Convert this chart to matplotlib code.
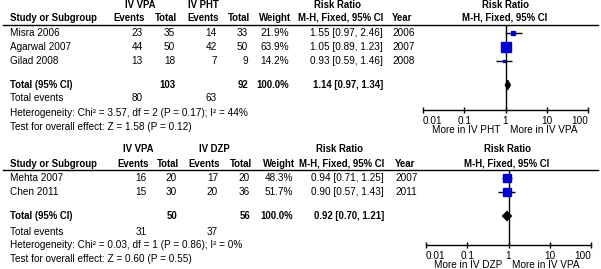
import matplotlib
matplotlib.use("Agg")
import matplotlib.pyplot as plt
from matplotlib.ticker import FixedLocator, FixedFormatter

plt.rcParams['font.family'] = ['Liberation Sans', 'DejaVu Sans']
plt.rcParams['font.stretch'] = 'normal'

# ---- data: comparison 1 (IV VPA vs IV PHT) ----
studies1 = ['Misra 2006', 'Agarwal 2007', 'Gilad 2008']
vpa_events1 = [23, 44, 13]
vpa_total1 = [35, 50, 18]
pht_events1 = [14, 42, 7]
pht_total1 = [33, 50, 9]
weight1 = [21.9, 63.9, 14.2]
rr1 = [1.55, 1.05, 0.93]
lo1 = [0.97, 0.89, 0.59]
hi1 = [2.46, 1.23, 1.46]
year1 = [2006, 2007, 2008]
pooled1 = (1.14, 0.97, 1.34)
sum_total1 = (103, 92)
sum_events1 = (80, 63)
het1 = 'Heterogeneity: Chi² = 3.57, df = 2 (P = 0.17); I² = 44%'
test1 = 'Test for overall effect: Z = 1.58 (P = 0.12)'

# ---- data: comparison 2 (IV VPA vs IV DZP) ----
studies2 = ['Mehta 2007', 'Chen 2011']
vpa_events2 = [16, 15]
vpa_total2 = [20, 30]
dzp_events2 = [17, 20]
dzp_total2 = [20, 36]
weight2 = [48.3, 51.7]
rr2 = [0.94, 0.90]
lo2 = [0.71, 0.57]
hi2 = [1.25, 1.43]
year2 = [2007, 2011]
pooled2 = (0.92, 0.70, 1.21)
sum_total2 = (50, 56)
sum_events2 = (31, 37)
het2 = 'Heterogeneity: Chi² = 0.03, df = 1 (P = 0.86); I² = 0%'
test2 = 'Test for overall effect: Z = 0.60 (P = 0.55)'

tick_vals = [0.01, 0.1, 1, 10, 100]
tick_labels = ['0.01', '0.1', '1', '10', '100']

W, H = 601, 269
FS = 7.2      # normal text
FSB = 6.9     # bold text
BLUE = '#0000CC'

fig = plt.figure(figsize=(W / 100, H / 100), dpi=100)
bg = fig.add_axes([0, 0, 1, 1])
bg.set_xlim(0, W)
bg.set_ylim(H, 0)
bg.axis('off')


def txt(x, y, s, ha='left', bold=False):
    bg.text(x, y, s, ha=ha, va='center', fontsize=FSB if bold else FS,
            fontweight='bold' if bold else 'normal')


def panel(y0, cols, grp, names, e1, n1, e2, n2, w, rr, lo, hi, yrs,
          pooled, tot, ev, het, test, fx, ctl):
    # y0: row centres in pixels
    yg, yh, yline, rows, ytot, yev, yhet, ytest, yaxis = y0
    c_e1, c_n1, c_e2, c_n2, c_w, c_rr, c_yr = cols
    txt(grp[0][0], yg, grp[0][1], ha='center', bold=True)
    txt(grp[1][0], yg, grp[1][1], ha='center', bold=True)
    txt(10, yh, 'Study or Subgroup', bold=True)
    for cx, lab in zip([c_e1, c_n1, c_e2, c_n2, c_w],
                       ['Events', 'Total', 'Events', 'Total', 'Weight']):
        txt(cx + 2, yh, lab, ha='right', bold=True)
    txt(c_rr - 45, yg, 'Risk Ratio', ha='center', bold=True)
    txt(c_rr, yh, 'M-H, Fixed, 95% CI', ha='right', bold=True)
    txt(c_yr, yh, 'Year', bold=True)
    txt(fx[2], yg, 'Risk Ratio', ha='center', bold=True)
    txt(fx[2], yh, 'M-H, Fixed, 95% CI', ha='center', bold=True)
    bg.plot([3, 598], [yline, yline], color='black', lw=1)

    for i, y in enumerate(rows):
        txt(10, y, names[i])
        txt(c_e1, y, str(e1[i]), ha='right')
        txt(c_n1, y, str(n1[i]), ha='right')
        txt(c_e2, y, str(e2[i]), ha='right')
        txt(c_n2, y, str(n2[i]), ha='right')
        txt(c_w, y, '%.1f%%' % w[i], ha='right')
        txt(c_rr, y, '%.2f [%.2f, %.2f]' % (rr[i], lo[i], hi[i]), ha='right')
        txt(c_yr, y, str(yrs[i]))

    txt(10, ytot, 'Total (95% CI)', bold=True)
    txt(c_n1, ytot, str(tot[0]), ha='right', bold=True)
    txt(c_n2, ytot, str(tot[1]), ha='right', bold=True)
    txt(c_w, ytot, '100.0%', ha='right', bold=True)
    txt(c_rr, ytot, '%.2f [%.2f, %.2f]' % pooled, ha='right', bold=True)
    txt(10, yev, 'Total events')
    txt(c_e1, yev, str(ev[0]), ha='right')
    txt(c_e2, yev, str(ev[1]), ha='right')
    txt(10, yhet, het)
    txt(10, ytest, test)

    # forest plot axes on log scale
    x_lo, x_hi = fx[0], fx[1]
    ax = fig.add_axes([x_lo / W, 0, (x_hi - x_lo) / W, 1])
    ax.set_xscale('log')
    ax.set_xlim(0.01, 100)
    ax.set_ylim(H, 0)
    ax.patch.set_visible(False)
    for s in ['top', 'left', 'right']:
        ax.spines[s].set_visible(False)
    ax.spines['bottom'].set_position(('data', yaxis))
    ax.spines['bottom'].set_linewidth(1)
    ax.set_yticks([])
    ax.xaxis.set_major_locator(FixedLocator(tick_vals))
    ax.xaxis.set_major_formatter(FixedFormatter(tick_labels))
    ax.xaxis.set_minor_locator(FixedLocator([]))
    ax.tick_params(axis='x', direction='inout', length=5, width=1,
                   labelsize=FS, pad=1.5)
    labs = ax.get_xticklabels()
    labs[0].set_horizontalalignment('left')
    labs[-1].set_horizontalalignment('right')
    ax.vlines(1, yline, yaxis, color='black', lw=1)
    for i, y in enumerate(rows):
        ax.hlines(y, lo[i], hi[i], color='black', lw=1)
        ax.plot(rr[i], y, marker='s', color=BLUE, mec=BLUE,
                markersize=0.155 * w[i] * 0.72, clip_on=False)
    est, plo, phi = pooled
    ax.fill([plo, est, phi, est], [ytot, ytot - 5, ytot, ytot + 5],
            color='black', lw=0.5)
    txt(fx[2] - 5, yaxis + 20, 'More in ' + ctl, ha='right')
    txt(fx[2] + 5, yaxis + 20, 'More in IV VPA')


panel([5, 18, 24.5, [33, 47, 61], 85, 98, 113, 127, 110],
      [143, 175, 217, 248, 289, 383, 392],
      [(140, 'IV VPA'), (203, 'IV PHT')],
      studies1, vpa_events1, vpa_total1, pht_events1, pht_total1, weight1,
      rr1, lo1, hi1, year1, pooled1, sum_total1, sum_events1, het1, test1,
      (423, 588, 505), 'IV PHT')

panel([149, 164, 169.5, [178, 192], 216, 232, 245, 259, 245],
      [147, 177, 218, 250, 293, 384, 395],
      [(138, 'IV VPA'), (214, 'IV DZP')],
      studies2, vpa_events2, vpa_total2, dzp_events2, dzp_total2, weight2,
      rr2, lo2, hi2, year2, pooled2, sum_total2, sum_events2, het2, test2,
      (426, 591, 507), 'IV DZP')

fig.savefig('out.png', dpi=100)
